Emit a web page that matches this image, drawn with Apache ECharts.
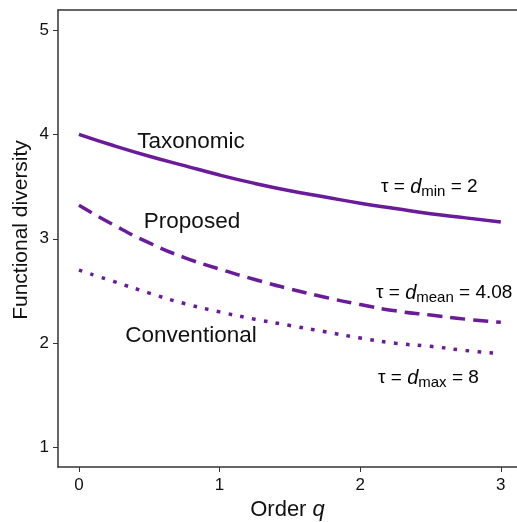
<!DOCTYPE html>
<html>
<head>
<meta charset="utf-8">
<script src="https://cdn.jsdelivr.net/npm/echarts@6/dist/echarts.min.js"></script>
<style>html,body{margin:0;padding:0;background:#fff}#c{width:517px;height:522px}</style>
</head>
<body>
<div id="c"></div>
<script>
var orders = [0, 0.25, 0.5, 0.75, 1, 1.25, 1.5, 1.75, 2, 2.25, 2.5, 2.75, 3];
var taxonomic = [4.00, 3.89, 3.79, 3.70, 3.61, 3.53, 3.46, 3.40, 3.34, 3.29, 3.24, 3.20, 3.16];
var proposed = [3.32, 3.13, 2.96, 2.82, 2.71, 2.61, 2.52, 2.44, 2.37, 2.31, 2.27, 2.23, 2.20];
var conventional = [2.70, 2.59, 2.48, 2.38, 2.30, 2.23, 2.17, 2.11, 2.05, 2.00, 1.97, 1.93, 1.90];
var xTicks = [0, 1, 2, 3];
var yTicks = [1, 2, 3, 4, 5];

function pairs(ys) { return orders.map(function (q, i) { return [q, ys[i]]; }); }

var color = '#6A1B9A';
var font = 'Liberation Sans, Arial, sans-serif';
var chart = echarts.init(document.getElementById('c'));
var rich = {
  n: { fontSize: 19, fontFamily: font, color: '#111' },
  d: { fontSize: 20, fontFamily: font, fontStyle: 'italic', color: '#111' },
  s: { fontSize: 15, fontFamily: font, color: '#111', padding: [9, 0, 0, 0] }
};
chart.setOption({
  animation: false,
  grid: { left: 58, top: 10, right: 0, bottom: 55, outerBoundsMode: 'none', containLabel: false },
  xAxis: [{
    type: 'value', min: -0.149, max: 3.115,
    axisLine: { show: true, onZero: false, lineStyle: { color: '#333', width: 1.5 } },
    axisTick: { show: true, customValues: xTicks, length: 5, lineStyle: { color: '#333' } },
    axisLabel: { customValues: xTicks, fontSize: 17, fontFamily: font, color: '#111', margin: 10 },
    splitLine: { show: false },
    name: 'Order {i|q}', nameLocation: 'middle', nameGap: 32,
    nameTextStyle: { fontSize: 22, fontFamily: font, color: '#111',
      rich: { i: { fontSize: 22, fontFamily: font, fontStyle: 'italic', color: '#111' } } }
  }, {
    type: 'value', position: 'top', min: -0.149, max: 3.115,
    axisLine: { show: true, onZero: false, lineStyle: { color: '#333', width: 1.5 } },
    axisTick: { show: false }, axisLabel: { show: false }, splitLine: { show: false }
  }],
  yAxis: {
    type: 'value', min: 0.815, max: 5.19,
    axisLine: { show: true, onZero: false, lineStyle: { color: '#333', width: 1.5 } },
    axisTick: { show: true, customValues: yTicks, length: 5, lineStyle: { color: '#333' } },
    axisLabel: { customValues: yTicks, fontSize: 17, fontFamily: font, color: '#111', margin: 9 },
    splitLine: { show: false }
  },
  series: [
    { type: 'line', name: 'Taxonomic', data: pairs(taxonomic), smooth: true, showSymbol: false,
      lineStyle: { color: color, width: 3.5 } },
    { type: 'line', name: 'Proposed', data: pairs(proposed), smooth: true, showSymbol: false,
      lineStyle: { color: color, width: 3.5, type: [15, 8] } },
    { type: 'line', name: 'Conventional', data: pairs(conventional), smooth: true, showSymbol: false,
      lineStyle: { color: color, width: 3.5, type: [3.5, 8.5] } }
  ],
  graphic: [
    { type: 'text', x: 21, y: 230, rotation: Math.PI / 2, style: { text: 'Functional diversity', font: '21px ' + font, fill: '#111', align: 'center', verticalAlign: 'middle' } },
    { type: 'text', x: 191, y: 142, style: { text: 'Taxonomic', font: '22.5px ' + font, fill: '#111', align: 'center', verticalAlign: 'middle' } },
    { type: 'text', x: 192, y: 222, style: { text: 'Proposed', font: '22.5px ' + font, fill: '#111', align: 'center', verticalAlign: 'middle' } },
    { type: 'text', x: 191, y: 336, style: { text: 'Conventional', font: '22.5px ' + font, fill: '#111', align: 'center', verticalAlign: 'middle' } },
    { type: 'text', x: 381, y: 187, style: { text: '{n|τ = }{d|d}{s|min}{n| = 2}', rich: rich, verticalAlign: 'middle' } },
    { type: 'text', x: 376, y: 293, style: { text: '{n|τ = }{d|d}{s|mean}{n| = 4.08}', rich: rich, verticalAlign: 'middle' } },
    { type: 'text', x: 378, y: 378, style: { text: '{n|τ = }{d|d}{s|max}{n| = 8}', rich: rich, verticalAlign: 'middle' } }
  ]
});
</script>
</body>
</html>
